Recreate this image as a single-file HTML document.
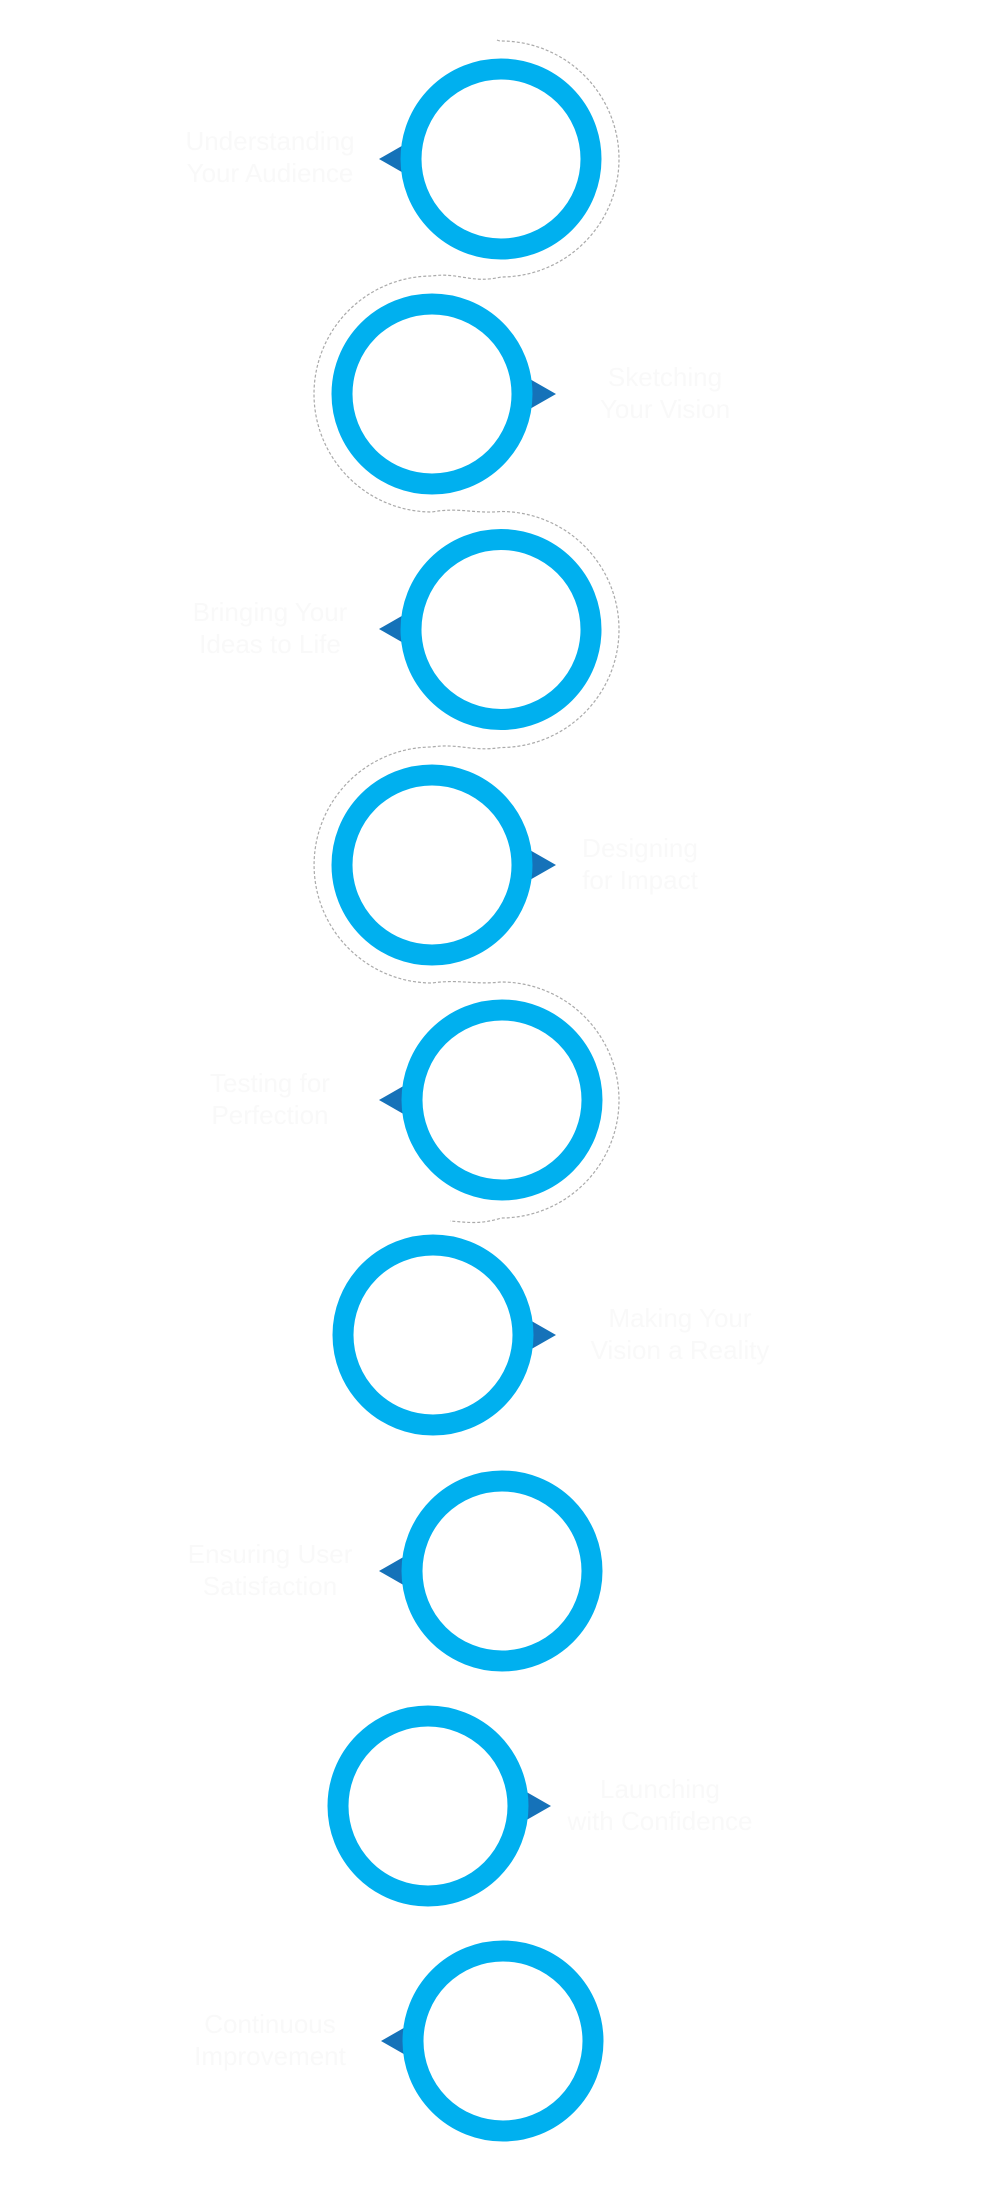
<!DOCTYPE html>
<html><head><meta charset="utf-8"><style>
html,body{margin:0;padding:0;background:#fff;}
svg{display:block;}
text{font-family:"Liberation Sans",sans-serif;font-size:26px;fill:#f9f9f9;}
</style></head><body>
<svg width="1000" height="2200" viewBox="0 0 1000 2200" xmlns="http://www.w3.org/2000/svg">
<path d="M497,40 C499,41 500,41 501,41 A118,118 0 0 1 501,277 C472,284 458,272 432,276 A118,118 0 0 0 432,512 C458,507 475,514 501,511.5 A118,118 0 0 1 501,747.5 C472,752 458,743 432,747 A118,118 0 0 0 432,983 C458,979 475,985 501,982 A118,118 0 0 1 501,1218 C480,1225 465,1222 450,1221" fill="none" stroke="#aaaaaa" stroke-width="1.2" stroke-dasharray="3,2"/>
<g fill="#1572b9">
<polygon points="379,159 407,143 407,175"/>
<polygon points="556,394 528,378 528,410"/>
<polygon points="379,629 407,613 407,645"/>
<polygon points="556,865 528,849 528,881"/>
<polygon points="379,1100 407,1084 407,1116"/>
<polygon points="556,1335 528,1319 528,1351"/>
<polygon points="379,1571 407,1555 407,1587"/>
<polygon points="551,1806 523,1790 523,1822"/>
<polygon points="381,2041 409,2025 409,2057"/>
</g>
<g fill="#fff" stroke="#00b0ef" stroke-width="21">
<circle cx="501" cy="159" r="90"/>
<circle cx="432" cy="394" r="90"/>
<circle cx="501" cy="629.5" r="90"/>
<circle cx="432" cy="865" r="90"/>
<circle cx="502" cy="1100" r="90"/>
<circle cx="433" cy="1335" r="90"/>
<circle cx="502" cy="1571" r="90"/>
<circle cx="428" cy="1806" r="90"/>
<circle cx="503" cy="2041" r="90"/>
</g>
<g text-anchor="middle">
<text x="270" y="150">Understanding</text><text x="270" y="182">Your Audience</text>
<text x="665" y="386">Sketching</text><text x="665" y="418">Your Vision</text>
<text x="270" y="621">Bringing Your</text><text x="270" y="653">Ideas to Life</text>
<text x="640" y="857">Designing</text><text x="640" y="889">for Impact</text>
<text x="270" y="1092">Testing for</text><text x="270" y="1124">Perfection</text>
<text x="680" y="1327">Making Your</text><text x="680" y="1359">Vision a Reality</text>
<text x="270" y="1563">Ensuring User</text><text x="270" y="1595">Satisfaction</text>
<text x="660" y="1798">Launching</text><text x="660" y="1830">with Confidence</text>
<text x="270" y="2033">Continuous</text><text x="270" y="2065">Improvement</text>
</g>
</svg>
</body></html>
